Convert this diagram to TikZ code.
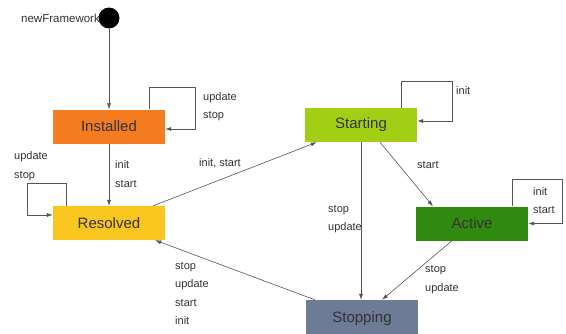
\documentclass[tikz,border=0pt]{standalone}
\usepackage{fontspec}
\setmainfont{Liberation Sans}
\usetikzlibrary{arrows.meta}
\definecolor{cInst}{HTML}{F47B20}
\definecolor{cRes}{HTML}{F9C61F}
\definecolor{cSta}{HTML}{A2CE16}
\definecolor{cAct}{HTML}{2F8A0F}
\definecolor{cSto}{HTML}{6E7B97}
\definecolor{cLine}{HTML}{555555}
\definecolor{cTxt}{HTML}{333333}
\begin{document}
\begin{tikzpicture}[x=1pt,y=-1pt,
  state/.style={rectangle,minimum width=112pt,minimum height=34pt,inner sep=0pt,
    font=\fontsize{15}{17}\selectfont,text=cTxt},
  lbl/.style={anchor=west,align=left,inner sep=0pt,text=cTxt,
    font=\fontsize{11}{18.5}\selectfont},
  arr/.style={draw=cLine,line width=0.6pt,-{Latex[length=6pt,width=4pt]}}]
\clip (0,0) rectangle (566,333);
\fill[white] (0,0) rectangle (566,333);
\node[circle,fill=black,minimum size=21pt,inner sep=0pt] (init) at (109,18) {};
\node[anchor=east,inner sep=0pt,text=cTxt,font=\fontsize{11.5}{13}\selectfont] (nf) at (100,18) {newFramework};
\node[state,fill=cInst] (inst) at (109,126.5) {Installed};
\node[state,fill=cRes] (res) at (109,223) {Resolved};
\node[state,fill=cSta] (sta) at (361,125) {Starting};
\node[state,fill=cAct] (act) at (472,223.5) {Active};
\node[state,fill=cSto,minimum height=38pt] (sto) at (362,319) {Stopping};
% edges
\draw[arr] (init) -- (inst.north);
\draw[arr] (inst.south) -- (res.north);
\draw[arr] ([xshift=-12pt]res.north east) -- ([xshift=12pt]sta.south west);
\draw[arr] ([xshift=19pt]sta.south) -- ([xshift=-39pt]act.north);
\draw[arr] (sta.south) -- (sto.north -| sta.south);
\draw[arr] ([xshift=-20pt]act.south) -- ([xshift=20pt]sto.north);
\draw[arr] ([xshift=9pt]sto.north west) -- ([xshift=-10pt]res.south east);
% self loops
\draw[arr] ([xshift=-16pt]inst.north east) |- ++(46,-22) |- ([yshift=-2.5pt]inst.east);
\draw[arr] ([xshift=13pt]res.north west) |- ++(-39,-23) |- ([yshift=8pt]res.west);
\draw[arr] ([xshift=-16pt]sta.north east) |- ++(51,-27) |- ([yshift=4pt]sta.east);
\draw[arr] ([xshift=-16pt]act.north east) |- ++(50,-27) |- (act.east);
% labels
\node[lbl] (l1) at (203,106.5) {update\\stop};
\node[lbl] (l2) at (14,166) {update\\stop};
\node[lbl] (l3) at (115,174) {init\\start};
\node[lbl] (l4) at (199,163) {init, start};
\node[lbl] (l5) at (456,91) {init};
\node[lbl] (l6) at (417,165) {start};
\node[lbl] (l7) at (328,219) {stop\\update};
\node[lbl] (l8) at (533,200.5) {init\\start};
\node[lbl] (l9) at (425,279.5) {stop\\update};
\node[lbl] (l10) at (175,293.5) {stop\\update\\start\\init};
\end{tikzpicture}
\end{document}
